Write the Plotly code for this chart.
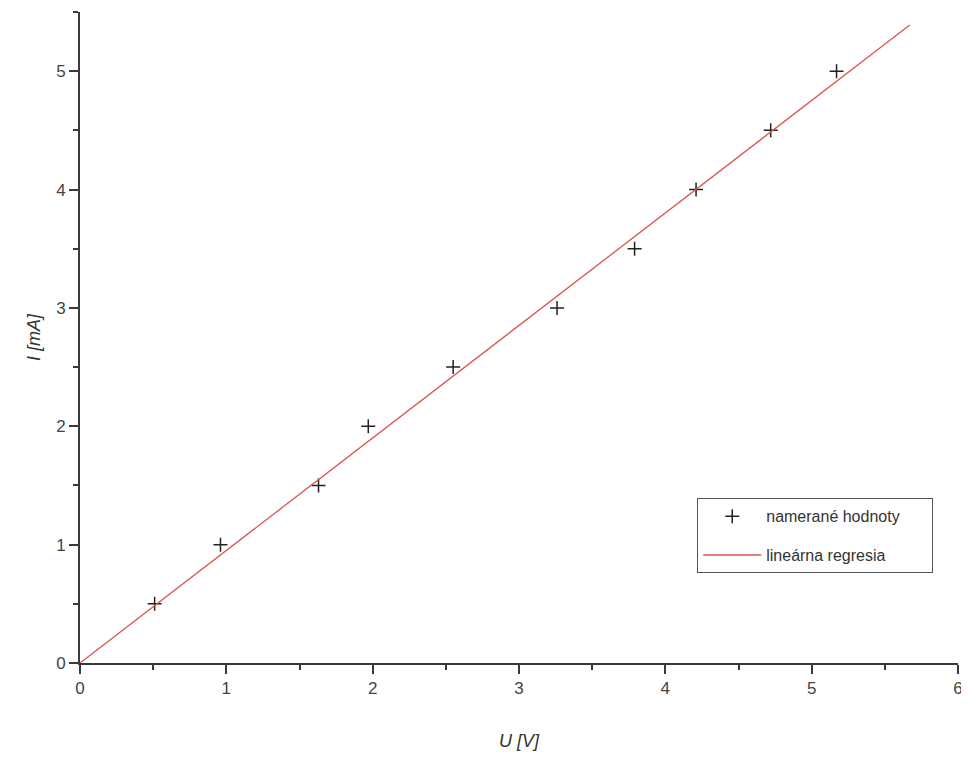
import plotly.graph_objects as go

# measured values
U_meas = [0.51, 0.96, 1.63, 1.97, 2.55, 3.26, 3.79, 4.21, 4.72, 5.17]
I_meas = [0.5, 1.0, 1.5, 2.0, 2.5, 3.0, 3.5, 4.0, 4.5, 5.0]

# linear regression line (end points)
U_reg = [0.0, 5.67]
I_reg = [0.0, 5.39]

x_ticks = [0, 1, 2, 3, 4, 5, 6]
y_ticks = [0, 1, 2, 3, 4, 5]

axis_col = "#3a3a3a"
font_fam = "Liberation Sans, Arial, sans-serif"
pad = "&nbsp;" * 6

fig = go.Figure()
fig.add_trace(go.Scatter(
    x=U_meas, y=I_meas, mode="markers", name="namerané hodnoty" + pad, legendgroup="a",
    marker=dict(symbol="cross-thin", size=10, line=dict(color="#222222", width=1.5)),
))
fig.add_trace(go.Scatter(
    x=U_reg, y=I_reg, mode="lines", name="lineárna regresia", legendgroup="b",
    line=dict(color="#d9534f", width=1.3),
))

fig.update_layout(
    width=961, height=759,
    margin=dict(l=72, r=11, t=4, b=104),
    paper_bgcolor="white", plot_bgcolor="white",
    font=dict(family=font_fam, size=16, color="#444444"),
    showlegend=True,
    legend=dict(
        x=0.703, y=0.253, xanchor="left", yanchor="top",
        bordercolor="#555555", borderwidth=1, bgcolor="white",
        font=dict(size=16, color="#333333"),
        tracegroupgap=15, itemwidth=58,
    ),
    xaxis=dict(
        range=[0, 6], tickvals=x_ticks, showgrid=False, zeroline=False,
        showline=True, linecolor=axis_col, linewidth=2, automargin=False,
        ticks="outside", ticklen=9, tickwidth=2, tickcolor=axis_col,
        minor=dict(dtick=0.5, ticks="outside", ticklen=5, tickwidth=2, tickcolor=axis_col),
        title=dict(text="<i>U [V]</i>", standoff=37, font=dict(size=18, color="#333333")),
        tickfont=dict(size=17),
    ),
    yaxis=dict(
        range=[0, 5.5], tickvals=y_ticks, showgrid=False, zeroline=False,
        showline=True, linecolor=axis_col, linewidth=2, automargin=False,
        ticks="outside", ticklen=9, tickwidth=2, tickcolor=axis_col,
        minor=dict(dtick=0.5, ticks="outside", ticklen=5, tickwidth=2, tickcolor=axis_col),
        title=dict(text="<i>I [mA]</i>", standoff=11, font=dict(size=18, color="#333333")),
        tickfont=dict(size=17),
    ),
)

fig.write_html("out.html")
